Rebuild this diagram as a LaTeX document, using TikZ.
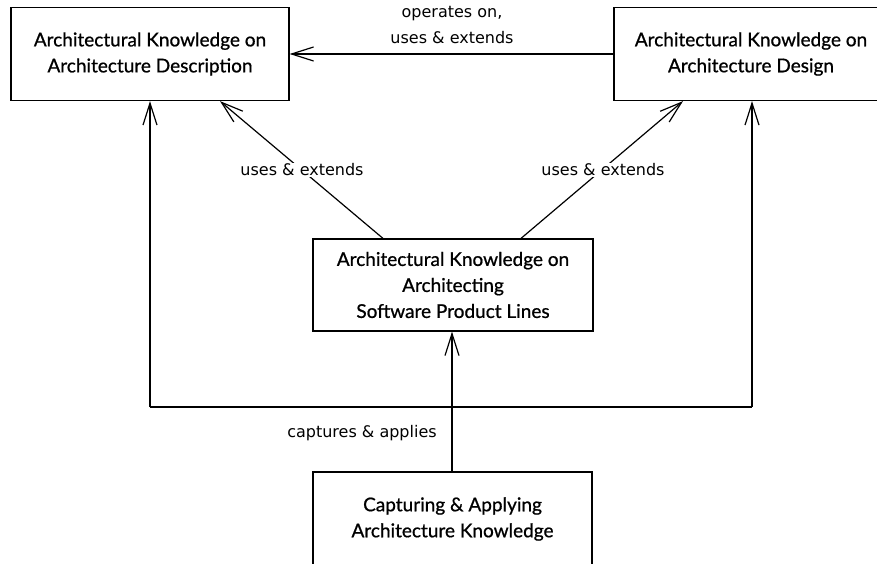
\documentclass[tikz,border=0pt]{standalone}
\usepackage{fontspec}
\setmainfont{Lato}
\newfontfamily\boxfont{Lato}[FakeBold=0.8]
\newfontfamily\labelfont{DejaVu Sans}
\usetikzlibrary{arrows.meta}
\begin{document}
\begin{tikzpicture}[x=1pt,y=-1pt,
  box/.style={draw,line width=1.2pt,inner sep=0pt,align=center,
    font=\boxfont\fontsize{19}{26}\selectfont},
  link/.style={line width=1.2pt,-{Straight Barb[length=22pt,width=14pt,line width=1.2pt]}},
  plain/.style={line width=1.2pt},
  lbl/.style={font=\labelfont\fontsize{16}{26}\selectfont,align=center,inner sep=1pt}]
\useasboundingbox (0,0) rectangle (877,564);
\begin{scope}
\clip (0,0) rectangle (877,564);
% knowledge boxes
\node[box,minimum width=278pt,minimum height=93pt] (desc) at (150,54)
  {Architectural Knowledge on\\Architecture Description};
\node[box,minimum width=274pt,minimum height=93pt] (design) at (751,54)
  {Architectural Knowledge on\\Architecture Design};
\node[box,minimum width=280pt,minimum height=92pt] (spl) at (453,285)
  {Architectural Knowledge on\\Architecting\\Software Product Lines};
\node[box,minimum width=279pt,minimum height=94pt] (cap) at (452.5,519)
  {Capturing \& Applying\\Architecture Knowledge};
\end{scope}
% connectors
\coordinate (jl) at (150,407);
\coordinate (jm) at (452,407);
\coordinate (jr) at (752,407);
\draw[link] (design.west) -- (desc.east);
\draw[link] (spl.north west -| 383,0) -- (desc.south east -| 220,0);
\draw[link] (spl.north west -| 521,0) -- (design.south west -| 683,0);
\draw[link] (cap.north -| jm) -- (spl.south -| jm);
\draw[plain] (jl) -- (jr);
\draw[link] (jl) -- (desc.south -| jl);
\draw[link] (jr) -- (design.south -| jr);
% labels
\node[lbl] (l1) at (452,25) {operates on,\\uses \& extends};
\node[lbl,fill=white] (l2) at (302,170) {uses \& extends};
\node[lbl,fill=white] (l3) at (603,170) {uses \& extends};
\node[lbl] (l4) at (362,433) {captures \& applies};
\end{tikzpicture}
\end{document}
